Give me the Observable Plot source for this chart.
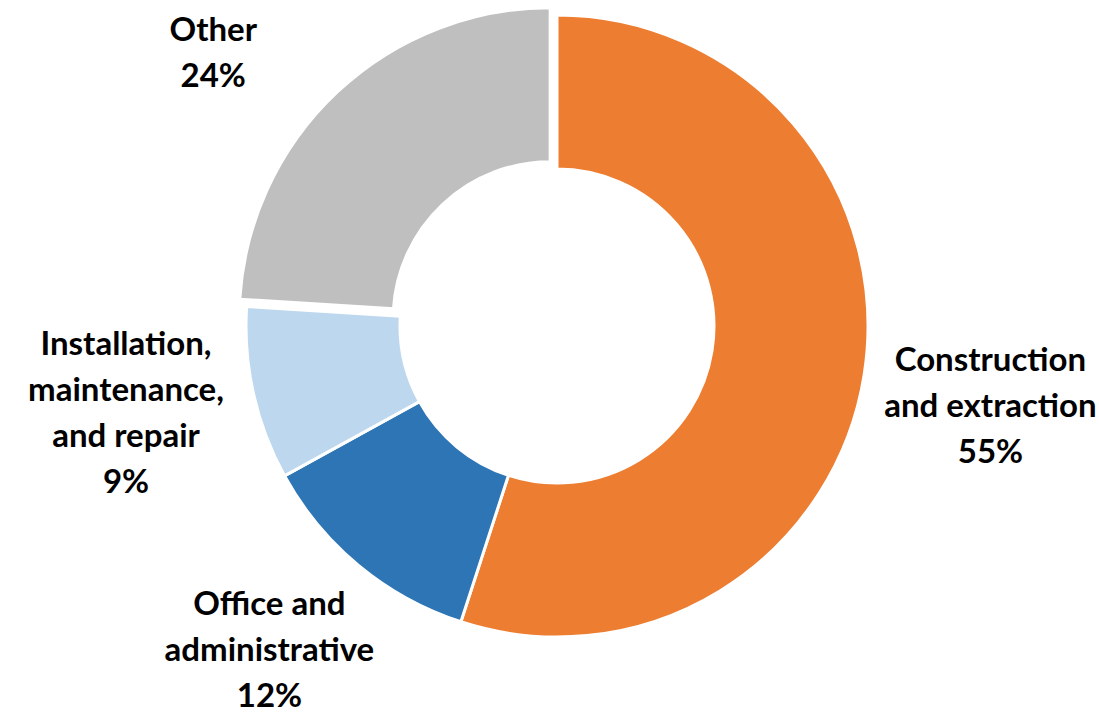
<!DOCTYPE html>
<html><head><meta charset="utf-8">
<script src="https://cdn.jsdelivr.net/npm/d3@7"></script>
<script src="https://cdn.jsdelivr.net/npm/@observablehq/plot@0.6"></script>
<style>html,body{margin:0;padding:0;background:#fff;overflow:hidden}</style>
</head><body><div id="chart"></div>
<script>
// ---- data ----
const categories = ["Construction and extraction", "Office and administrative", "Installation, maintenance, and repair", "Other"];
const labelLines = [["Construction", "and extraction"], ["Office and", "administrative"], ["Installation,", "maintenance,", "and repair"], ["Other"]];
const shares = [55, 12, 9, 24];
const colors = ["#ED7D31", "#2E75B6", "#BDD7EE", "#BFBFBF"];
const exploded = ["Other"];

// ---- layout ----
const W = 1099, H = 713;
const cx = 557, cy = 326, rOuter = 311, rInner = 157, explode = 10;
const rLabel = 440, labelAngleShift = 1.3 * Math.PI / 180;
const fontSize = 33, lineH = 46, firstLineMin = 29, lastLineMax = 695;

const pie = d3.pie().sort(null).value(d => d.value);
const arcs = pie(categories.map((c, i) => ({category: c, value: shares[i], lines: labelLines[i]})));
const slices = arcs.map(a => ({category: a.data.category, value: a.data.value, lines: a.data.lines, startAngle: a.startAngle, endAngle: a.endAngle, padAngle: 0}));

// label placement: mid-angle at rLabel; at the top slide along the circle, at the bottom shift up
const labels = slices.map(s => {
  const lines = [...s.lines, `${s.value}%`];
  const mid = (s.startAngle + s.endAngle) / 2 + labelAngleShift;
  let x = cx + rLabel * Math.sin(mid), y = cy - rLabel * Math.cos(mid);
  const half = (lines.length - 1) * lineH / 2;
  if (y - half < firstLineMin) {
    const yc = firstLineMin + half;
    const dy = yc - cy;
    const dx = Math.sqrt(Math.max(0, rLabel * rLabel - dy * dy));
    x = cx + Math.sign(x - cx) * dx;
    y = yc;
  }
  if (y + half > lastLineMax) y = lastLineMax - half;
  return {category: s.category, x, y, text: lines.join("\n")};
});

const arcGen = d3.arc().innerRadius(rInner).outerRadius(rOuter);

const wedges = Plot.dot(slices, {
  x: () => cx, y: () => cy, fill: "category",
  render(index, scales, values) {
    const g = d3.create("svg:g");
    for (const i of index) {
      const s = slices[i];
      const mid = (s.startAngle + s.endAngle) / 2;
      const off = exploded.includes(s.category) ? explode : 0;
      const tx = values.x[i] + off * Math.sin(mid);
      const ty = values.y[i] - off * Math.cos(mid);
      g.append("path")
        .attr("d", arcGen(s))
        .attr("transform", `translate(${tx},${ty})`)
        .attr("fill", values.fill[i])
        .attr("stroke", "#fff")
        .attr("stroke-width", 3)
        .attr("stroke-linejoin", "round");
    }
    return g.node();
  }
});

const chart = Plot.plot({
  width: W, height: H,
  margin: 0,
  x: {domain: [0, W], range: [0, W], axis: null},
  y: {domain: [0, H], range: [0, H], axis: null},
  color: {domain: categories, range: colors},
  style: {fontFamily: "Lato, 'Open Sans', sans-serif", background: "#fff"},
  marks: [
    wedges,
    Plot.text(labels, {
      x: "x", y: "y", text: "text", dy: -3,
      fontSize, fontWeight: "bold", lineHeight: lineH / fontSize,
      fill: "#000", textAnchor: "middle", lineAnchor: "middle"
    })
  ]
});
document.getElementById("chart").appendChild(chart);
</script>
</body></html>
